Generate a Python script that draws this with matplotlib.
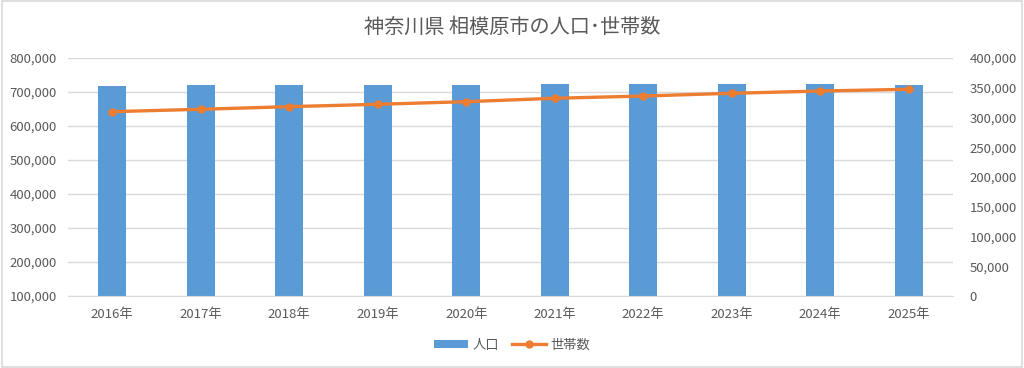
import numpy as np
import matplotlib
matplotlib.use("Agg")
from matplotlib import pyplot as plt
from matplotlib.patches import Rectangle
from matplotlib.ticker import FuncFormatter

plt.rcParams['font.family'] = ['Noto Sans CJK JP', 'DejaVu Sans']

TITLE = "神奈川県 相模原市の人口･世帯数"
YEARS = ["2016年", "2017年", "2018年", "2019年", "2020年",
         "2021年", "2022年", "2023年", "2024年", "2025年"]
POPULATION = [718000, 720500, 721000, 721300, 721500,
              722700, 724400, 724400, 722700, 720000]
HOUSEHOLDS = [309800, 313800, 318200, 322200, 326600,
              332300, 336100, 340700, 344500, 347400]

BLUE = "#5B9BD5"
ORANGE = "#ED7D31"
TEXT = "#595959"
GRID = "#D9D9D9"

fig = plt.figure(figsize=(10.24, 3.68), dpi=100)
ax = fig.add_axes([0.0664, 0.1957, 0.8643, 0.6467])
ax2 = ax.twinx()

x = np.arange(len(YEARS))
ax.bar(x, POPULATION, width=0.32, color=BLUE, zorder=2, label="人口")
ax2.plot(x, HOUSEHOLDS, color=ORANGE, linewidth=2.4, marker="o",
         markersize=5, zorder=3, label="世帯数")

ax.set_xlim(-0.5, len(YEARS) - 0.5)
ax.set_ylim(100000, 800000)
ax.set_yticks(np.arange(100000, 800001, 100000))
ax2.set_ylim(0, 400000)
ax2.set_yticks(np.arange(0, 400001, 50000))

fmt = FuncFormatter(lambda v, p: f"{int(v):,}")
ax.yaxis.set_major_formatter(fmt)
ax2.yaxis.set_major_formatter(fmt)

ax.set_xticks(x)
ax.set_xticklabels(YEARS)
ax.grid(axis="y", color=GRID, linewidth=1, zorder=0)
ax.set_axisbelow(True)

for a in (ax, ax2):
    for s in a.spines.values():
        s.set_visible(False)
    a.tick_params(length=0, labelsize=9.5, labelcolor=TEXT)
ax.spines["bottom"].set_visible(True)
ax.spines["bottom"].set_color(GRID)
ax.tick_params(axis="x", pad=9)
ax.tick_params(axis="y", pad=8)
ax2.tick_params(axis="y", pad=12)

fig.text(0.5, 0.925, TITLE, ha="center", va="center", fontsize=14.5, color=TEXT)

h1, l1 = ax.get_legend_handles_labels()
h2, l2 = ax2.get_legend_handles_labels()
fig.legend(h1 + h2, l1 + l2, loc="center", bbox_to_anchor=(0.5, 0.062),
           ncol=2, frameon=False, fontsize=9.5, labelcolor=TEXT,
           handlelength=2.6, handletextpad=0.3, columnspacing=1.0,
           handleheight=0.5)

fig.patches.append(Rectangle((0.002, 0.004), 0.996, 0.992, transform=fig.transFigure,
                             fill=False, edgecolor=GRID, linewidth=1.2))

fig.savefig("out.png", dpi=100)
